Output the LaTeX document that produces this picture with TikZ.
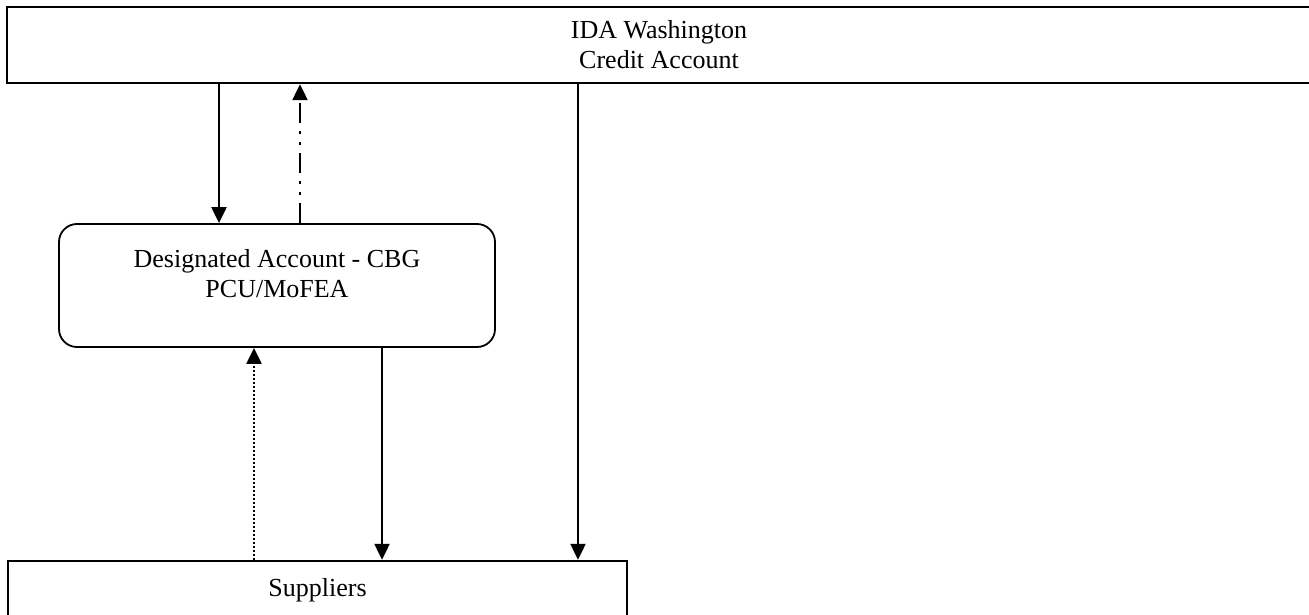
\documentclass[tikz,border=0pt]{standalone}
\usepackage{fontspec}
\setmainfont{Liberation Serif}
\usetikzlibrary{arrows.meta,positioning}
\tikzset{
	acctbox/.style={draw, line width=2.4pt, inner sep=0pt, align=center, font=\fontsize{26}{30}\selectfont},
	dabox/.style={draw, line width=1.8pt, rounded corners=18pt, inner sep=0pt},
	datext/.style={inner sep=0pt, align=center, font=\fontsize{26}{30}\selectfont},
	flow/.style={line width=2.2pt, -{Triangle[width=15pt,length=16pt]}},
	dashdotflow/.style={flow, dash pattern=on 20pt off 8pt on 3pt off 8pt on 3pt off 8pt},
	dotflow/.style={flow, dash pattern=on 2pt off 2pt}
}

\begin{document}
\begin{tikzpicture}[x=1pt, y=-1pt]
			%%%%% START %%%%%
			\useasboundingbox (0, 0) rectangle (1309, 615);
			
			\node[acctbox, minimum width=1304pt, minimum height=76pt] (ida) at (659, 45) {IDA Washington\\Credit Account};
			
			\node[dabox, minimum width=436pt, minimum height=123pt] (da) at (277, 285.5) {};
			\node[datext, below=26pt of da.north] (dalabel) {Designated Account - CBG\\PCU/MoFEA};
			
			\node[acctbox, minimum width=619pt, minimum height=58pt] (sup) at (317.5, 590) {Suppliers};
			
			% columns of the arrows
			\coordinate (c1) at (219, 0);
			\coordinate (c2) at (300, 0);
			\coordinate (c3) at (254, 0);
			\coordinate (c4) at (382, 0);
			\coordinate (c5) at (578, 0);
			
			\draw[flow] (ida.south -| c1) -- (da.north -| c1);
			\draw[dashdotflow] (da.north -| c2) -- (ida.south -| c2);
			\draw[dotflow] (sup.north -| c3) -- (da.south -| c3);
			\draw[flow] (da.south -| c4) -- (sup.north -| c4);
			\draw[flow] (ida.south -| c5) -- (sup.north -| c5);
			
			%%%%% END %%%%%
\end{tikzpicture}
\end{document}
